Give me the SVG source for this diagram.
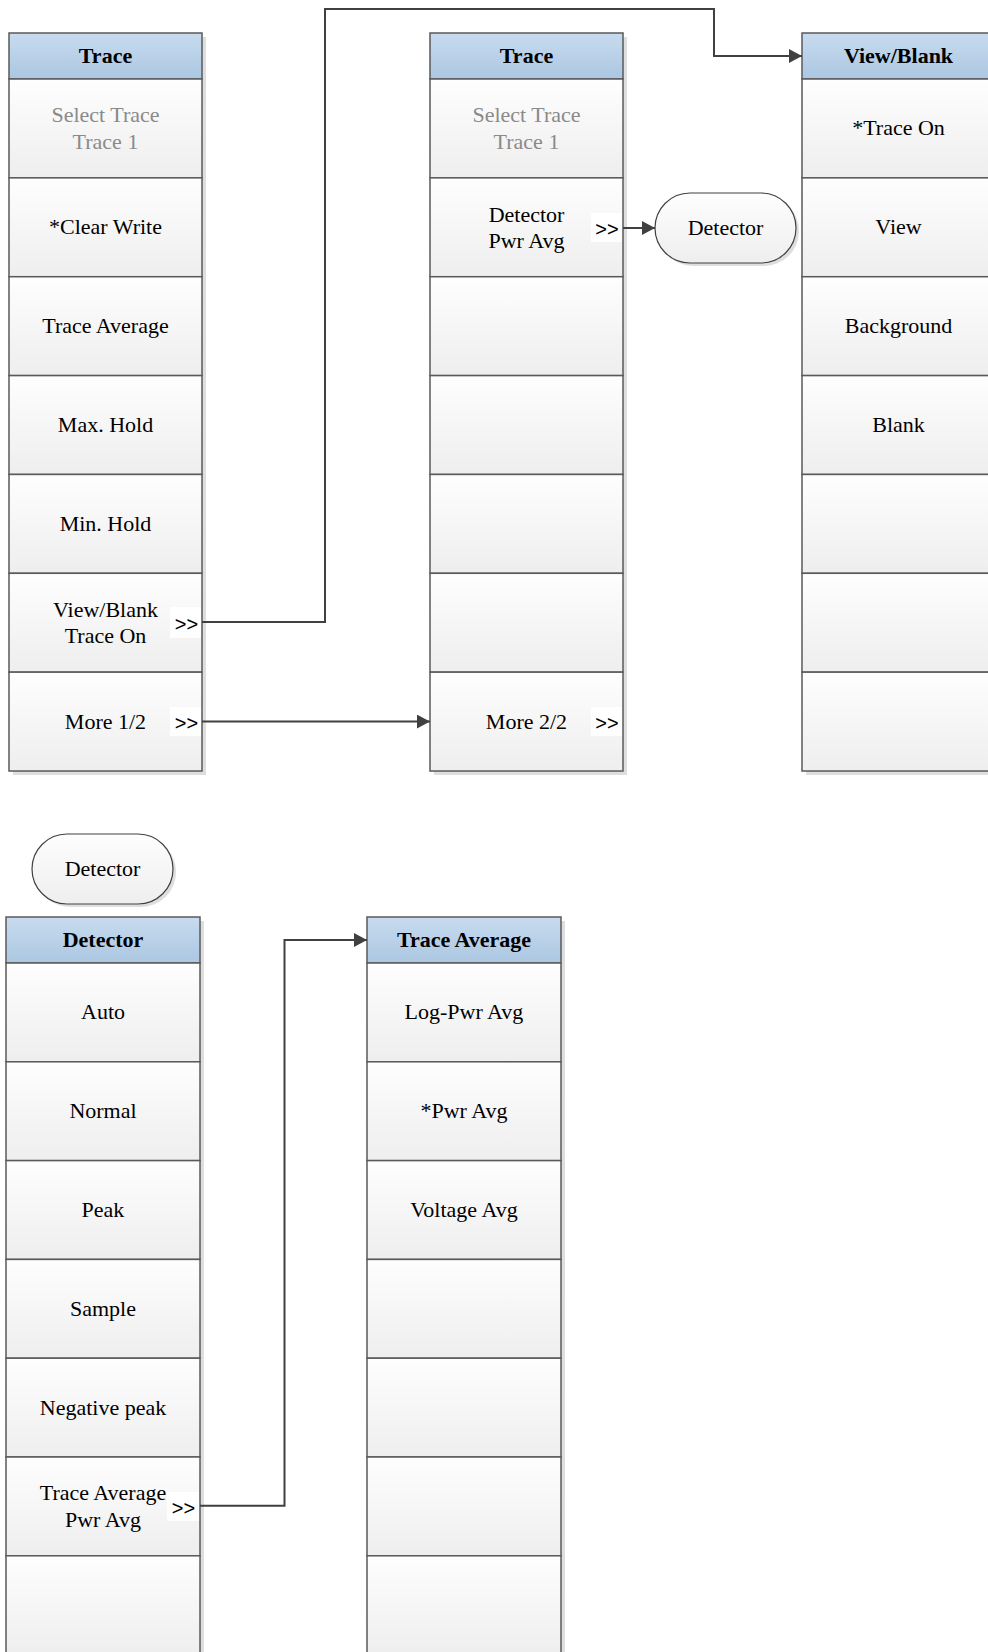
<svg xmlns="http://www.w3.org/2000/svg" width="988" height="1652" viewBox="0 0 988 1652" font-family="Liberation Serif, Times New Roman, serif">
<defs>
<linearGradient id="gHead" x1="0" y1="0" x2="0" y2="1"><stop offset="0" stop-color="#c8dbee"/><stop offset="1" stop-color="#abc7e2"/></linearGradient>
<linearGradient id="gCell" x1="0" y1="0" x2="0" y2="1"><stop offset="0" stop-color="#fefefe"/><stop offset="1" stop-color="#eeeeee"/></linearGradient>
<marker id="arr" markerUnits="userSpaceOnUse" markerWidth="14" markerHeight="14" refX="13" refY="7" orient="auto"><path d="M0,0 L13,7 L0,14 Z" fill="#404040"/></marker>
</defs>
<style>
.sh{fill:#dedede}
.hd{fill:url(#gHead);stroke:#5a5a5a;stroke-width:1.5}
.cl{fill:url(#gCell);stroke:#5a5a5a;stroke-width:1.5}
.ov{fill:url(#gCell);stroke:#404040;stroke-width:1.2}
.t{font-family:'Liberation Serif',serif;font-size:22px;fill:#000;text-anchor:middle}
.b{font-weight:bold}
.g{fill:#8a8a8a}
.gt{fill:#fff;opacity:0.9}
.gg{font-family:'Liberation Sans',sans-serif;font-size:20px;fill:#000;text-anchor:middle}
.cn{fill:none;stroke:#404040;stroke-width:2}
</style>
<rect width="988" height="1652" fill="#fff"/>

<!-- Column 1: Trace -->
<g id="col-trace1">
<rect class="sh" x="13" y="37" width="193" height="738"/>
<g id="t1-h"><rect class="hd" x="9" y="33" width="193" height="46"/><text class="t b" x="105.5" y="63">Trace</text></g>
<g id="t1-r1"><rect class="cl" x="9" y="79" width="193" height="98.86"/><text class="t g" x="105.5" y="122.4">Select Trace</text><text class="t g" x="105.5" y="148.9">Trace 1</text></g>
<g id="t1-r2"><rect class="cl" x="9" y="177.86" width="193" height="98.86"/><text class="t" x="105.5" y="234.3">*Clear Write</text></g>
<g id="t1-r3"><rect class="cl" x="9" y="276.72" width="193" height="98.86"/><text class="t" x="105.5" y="333.2">Trace Average</text></g>
<g id="t1-r4"><rect class="cl" x="9" y="375.58" width="193" height="98.86"/><text class="t" x="105.5" y="432">Max. Hold</text></g>
<g id="t1-r5"><rect class="cl" x="9" y="474.44" width="193" height="98.86"/><text class="t" x="105.5" y="530.9">Min. Hold</text></g>
<g id="t1-r6"><rect class="cl" x="9" y="573.3" width="193" height="98.86"/><text class="t" x="105.5" y="616.7">View/Blank</text><text class="t" x="105.5" y="643.2">Trace On</text><rect class="gt" x="170" y="607" width="31" height="31"/><text class="gg" x="186.5" y="630.5">&gt;&gt;</text></g>
<g id="t1-r7"><rect class="cl" x="9" y="672.16" width="193" height="98.86"/><text class="t" x="105.5" y="728.6">More 1/2</text><rect class="gt" x="170" y="707" width="31" height="29"/><text class="gg" x="186.5" y="729.6">&gt;&gt;</text></g>
</g>

<!-- Column 2: Trace (page 2) -->
<g id="col-trace2">
<rect class="sh" x="434" y="37" width="193" height="738"/>
<g id="t2-h"><rect class="hd" x="430" y="33" width="193" height="46"/><text class="t b" x="526.5" y="63">Trace</text></g>
<g id="t2-r1"><rect class="cl" x="430" y="79" width="193" height="98.86"/><text class="t g" x="526.5" y="122.4">Select Trace</text><text class="t g" x="526.5" y="148.9">Trace 1</text></g>
<g id="t2-r2"><rect class="cl" x="430" y="177.86" width="193" height="98.86"/><text class="t" x="526.5" y="221.5">Detector</text><text class="t" x="526.5" y="248">Pwr Avg</text><rect class="gt" x="591" y="213" width="31" height="29"/><text class="gg" x="607" y="235.5">&gt;&gt;</text></g>
<g id="t2-r3"><rect class="cl" x="430" y="276.72" width="193" height="98.86"/></g>
<g id="t2-r4"><rect class="cl" x="430" y="375.58" width="193" height="98.86"/></g>
<g id="t2-r5"><rect class="cl" x="430" y="474.44" width="193" height="98.86"/></g>
<g id="t2-r6"><rect class="cl" x="430" y="573.3" width="193" height="98.86"/></g>
<g id="t2-r7"><rect class="cl" x="430" y="672.16" width="193" height="98.86"/><text class="t" x="526.5" y="728.6">More 2/2</text><rect class="gt" x="591" y="707" width="31" height="29"/><text class="gg" x="607" y="729.6">&gt;&gt;</text></g>
</g>

<!-- Column 3: View/Blank -->
<g id="col-viewblank">
<rect class="sh" x="806" y="37" width="193" height="738"/>
<g id="vb-h"><rect class="hd" x="802" y="33" width="193" height="46"/><text class="t b" x="898.5" y="63">View/Blank</text></g>
<g id="vb-r1"><rect class="cl" x="802" y="79" width="193" height="98.86"/><text class="t" x="898.5" y="135.4">*Trace On</text></g>
<g id="vb-r2"><rect class="cl" x="802" y="177.86" width="193" height="98.86"/><text class="t" x="898.5" y="234.3">View</text></g>
<g id="vb-r3"><rect class="cl" x="802" y="276.72" width="193" height="98.86"/><text class="t" x="898.5" y="333.2">Background</text></g>
<g id="vb-r4"><rect class="cl" x="802" y="375.58" width="193" height="98.86"/><text class="t" x="898.5" y="432">Blank</text></g>
<g id="vb-r5"><rect class="cl" x="802" y="474.44" width="193" height="98.86"/></g>
<g id="vb-r6"><rect class="cl" x="802" y="573.3" width="193" height="98.86"/></g>
<g id="vb-r7"><rect class="cl" x="802" y="672.16" width="193" height="98.86"/></g>
</g>

<!-- Detector oval (top) -->
<g id="oval-detector1">
<rect class="sh" x="658" y="196" width="141" height="70" rx="35"/>
<rect class="ov" x="655" y="193" width="141" height="70" rx="35"/>
<text class="t" x="725.5" y="235">Detector</text>
</g>

<!-- Detector oval (bottom) -->
<g id="oval-detector2">
<rect class="sh" x="35" y="837" width="141" height="70" rx="35"/>
<rect class="ov" x="32" y="834" width="141" height="70" rx="35"/>
<text class="t" x="102.5" y="876">Detector</text>
</g>

<!-- Column 4: Detector -->
<g id="col-detector">
<rect class="sh" x="10" y="921" width="194" height="740"/>
<g id="d-h"><rect class="hd" x="6" y="917" width="194" height="46"/><text class="t b" x="103" y="947">Detector</text></g>
<g id="d-r1"><rect class="cl" x="6" y="963" width="194" height="98.8"/><text class="t" x="103" y="1019.4">Auto</text></g>
<g id="d-r2"><rect class="cl" x="6" y="1061.8" width="194" height="98.8"/><text class="t" x="103" y="1118.2">Normal</text></g>
<g id="d-r3"><rect class="cl" x="6" y="1160.6" width="194" height="98.8"/><text class="t" x="103" y="1217">Peak</text></g>
<g id="d-r4"><rect class="cl" x="6" y="1259.4" width="194" height="98.8"/><text class="t" x="103" y="1315.8">Sample</text></g>
<g id="d-r5"><rect class="cl" x="6" y="1358.2" width="194" height="98.8"/><text class="t" x="103" y="1414.6">Negative peak</text></g>
<g id="d-r6"><rect class="cl" x="6" y="1457" width="194" height="98.8"/><text class="t" x="103" y="1500.4">Trace Average</text><text class="t" x="103" y="1526.9">Pwr Avg</text><rect class="gt" x="167" y="1492" width="32" height="29"/><text class="gg" x="183.5" y="1514.5">&gt;&gt;</text></g>
<g id="d-r7"><rect class="cl" x="6" y="1555.8" width="194" height="98.8"/></g>
</g>

<!-- Column 5: Trace Average -->
<g id="col-traceavg">
<rect class="sh" x="371" y="921" width="194" height="740"/>
<g id="ta-h"><rect class="hd" x="367" y="917" width="194" height="46"/><text class="t b" x="464" y="947">Trace Average</text></g>
<g id="ta-r1"><rect class="cl" x="367" y="963" width="194" height="98.8"/><text class="t" x="464" y="1019.4">Log-Pwr Avg</text></g>
<g id="ta-r2"><rect class="cl" x="367" y="1061.8" width="194" height="98.8"/><text class="t" x="464" y="1118.2">*Pwr Avg</text></g>
<g id="ta-r3"><rect class="cl" x="367" y="1160.6" width="194" height="98.8"/><text class="t" x="464" y="1217">Voltage Avg</text></g>
<g id="ta-r4"><rect class="cl" x="367" y="1259.4" width="194" height="98.8"/></g>
<g id="ta-r5"><rect class="cl" x="367" y="1358.2" width="194" height="98.8"/></g>
<g id="ta-r6"><rect class="cl" x="367" y="1457" width="194" height="98.8"/></g>
<g id="ta-r7"><rect class="cl" x="367" y="1555.8" width="194" height="98.8"/></g>
</g>

<!-- Connectors -->
<g id="connectors">
<path class="cn" d="M202,622 H325 V9 H714 V56 H802" marker-end="url(#arr)"/>
<path class="cn" d="M202,721.6 H430" marker-end="url(#arr)"/>
<path class="cn" d="M623,228 H655" marker-end="url(#arr)"/>
<path class="cn" d="M200,1505.7 H284.5 V940 H367" marker-end="url(#arr)"/>
</g>
</svg>
